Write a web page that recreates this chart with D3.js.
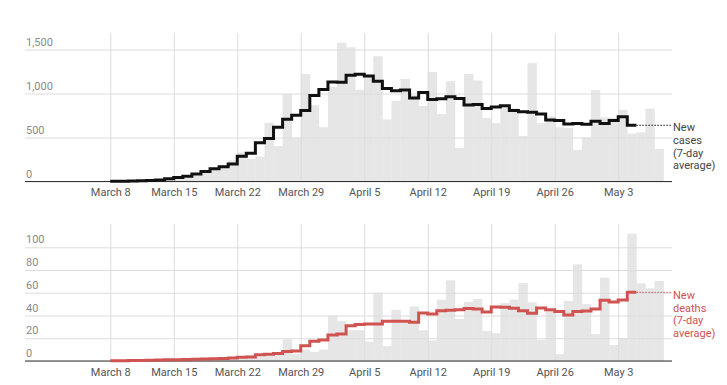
<!DOCTYPE html>
<html><head><meta charset="utf-8">
<script src="https://cdn.jsdelivr.net/npm/d3@7"></script>
<style>
body{margin:0;background:#fff;}
svg{display:block;font-family:Roboto,"Noto Sans",sans-serif;}
</style></head><body>
<svg id="chart" width="727" height="385"></svg>
<script>
// ---- data ----
const startDate = "2020-03-08";            // first day of data (index 0)
const tickDates = ["2020-03-08","2020-03-15","2020-03-22","2020-03-29","2020-04-05","2020-04-12","2020-04-19","2020-04-26","2020-05-03"];
const tickLabels = ["March 8","March 15","March 22","March 29","April 5","April 12","April 19","April 26","May 3"];

const newCases = [1,2,4,8,14,25,30,55,70,95,120,150,185,240,330,255,282,668,403,994,491,1222,866,616,1075,1578,1525,1042,1190,1424,705,915,1165,985,857,1246,766,1140,383,1222,1148,720,663,850,830,517,1345,663,740,616,610,360,500,1038,729,722,814,544,559,828,369];
const casesAvg = [2,4,6,9,12,18,30,45,60,85,113,144,167,199,288,320,440,490,616,708,752,808,978,1045,1131,1129,1207,1218,1199,1138,1056,1032,1041,950,1012,931,940,963,942,868,875,830,847,862,806,794,786,766,700,692,653,658,650,686,659,692,735,639];

const newDeaths = [0,0,1,0,1,1,1,1,2,1,2,3,2,4,3,5,4,7,5,19,6,10,8,10,40,35,27,27,17,60,13,45,34,48,27,18,54,71,37,52,54.5,26.5,24.5,51,54,68.5,51.5,18.6,44,6,52.8,85,50,23.7,73.3,14,20,112,68.3,64,70.4];
const deathsAvg = [0.2,0.3,0.4,0.5,0.6,0.8,1.0,1.1,1.3,1.5,1.7,2.0,2.3,2.7,3.2,3.5,5.6,6.0,6.5,8.3,8.8,13.5,17.3,18.5,22.8,23.7,31,32,32.5,32.5,34.9,35,35,34,42.3,41.3,44.1,44.6,45.1,46.2,45.8,43.1,47.6,47.3,46.3,44.3,41.9,46.7,45,43.5,40.5,43.5,44,45.8,53.4,52,53.7,60.4];

const casesTicks = [0,500,1000,1500];
const casesTickLabels = ["0","500","1,000","1,500"];
const deathsTicks = [0,20,40,60,80,100];
const deathsTickLabels = ["0","20","40","60","80","100"];
const casesLabel = ["New","cases","(7-day","average)"];
const deathsLabel = ["New","deaths","(7-day","average)"];

// ---- layout ----
const parse = d3.utcParse("%Y-%m-%d");
const day0 = parse(startDate);
const dayMs = 864e5;
const x = d3.scaleUtc()
  .domain([new Date(+day0 - 9.4*dayMs), new Date(+day0 + 61.93*dayMs)])
  .range([25, 672]);
const dateOf = i => d3.utcDay.offset(day0, i);

const svg = d3.select("#chart");

function panel(opts){
  const {bars, avg, yDomain, yRange, ticks, tickLabels: tl, gridTop, lineColor, labelColor, label, labelBase} = opts;
  const y = d3.scaleLinear().domain(yDomain).range(yRange);
  const g = svg.append("g");

  // bars
  g.append("g").selectAll("rect").data(bars).join("rect")
    .attr("x", (d,i)=>x(dateOf(i)))
    .attr("width", (d,i)=>x(dateOf(i+1))-x(dateOf(i)) + 0.3)
    .attr("y", d=>y(d))
    .attr("height", d=>y(0)-y(d))
    .attr("fill", "#e6e6e6");

  // horizontal grid / y axis
  const yAxis = d3.axisLeft(y).tickValues(ticks).tickFormat((d,i)=>tl[i]).tickSize(-(672-25));
  const ya = g.append("g").attr("transform","translate(25,0)").call(yAxis);
  ya.select(".domain").remove();
  ya.selectAll(".tick line").attr("stroke","#dcdcdc");
  ya.selectAll(".tick text").attr("x",1).attr("dy",-4.5).attr("text-anchor","start")
    .attr("fill","#8a8a8a").style("font-size","11px").style("font-family","Roboto, sans-serif");

  // vertical grid + x axis labels
  const tdates = tickDates.map(parse);
  const xAxis = d3.axisBottom(x).tickValues(tdates).tickFormat((d,i)=>tickLabels[i]).tickSize(-(yRange[0]-gridTop)).tickPadding(7);
  const xa = g.append("g").attr("transform",`translate(0,${yRange[0]})`).call(xAxis);
  xa.select(".domain").remove();
  xa.selectAll(".tick line").attr("stroke","#dcdcdc");
  xa.selectAll(".tick text").attr("fill","#555").style("font-size","11px").style("font-family","Roboto, sans-serif");

  // baseline
  g.append("line").attr("x1",25).attr("x2",672).attr("y1",y(0)).attr("y2",y(0))
    .attr("stroke","#333").attr("stroke-width",1);

  // 7-day average step line
  const pts = avg.map((v,i)=>[x(dateOf(i)), y(v)]);
  pts.push([x(dateOf(avg.length)), y(avg[avg.length-1])]);
  g.append("path").attr("d", d3.line().curve(d3.curveStepAfter)(pts))
    .attr("fill","none").attr("stroke",lineColor).attr("stroke-width",3);

  // dotted leader
  const lastY = y(avg[avg.length-1]);
  g.append("line").attr("x1",x(dateOf(avg.length))).attr("x2",671).attr("y1",lastY).attr("y2",lastY)
    .attr("stroke",lineColor).attr("stroke-width",1).attr("stroke-dasharray","1.5,1.5");

  // label
  const t = g.append("text").attr("x",673).attr("y",lastY+labelBase)
    .attr("fill",labelColor).style("font-size","11px").style("font-family","Roboto, sans-serif");
  label.forEach((s,i)=>t.append("tspan").attr("x",673).attr("dy", i===0?0:12.8).text(s));
}

panel({bars:newCases, avg:casesAvg, yDomain:[0,1500], yRange:[181.5,49.5], ticks:casesTicks, tickLabels:casesTickLabels,
  gridTop:33, lineColor:"#111", labelColor:"#444", label:casesLabel, labelBase:5.8});
panel({bars:newDeaths, avg:deathsAvg, yDomain:[0,100], yRange:[361,247.3], ticks:deathsTicks, tickLabels:deathsTickLabels,
  gridTop:224, lineColor:"#cf5350", labelColor:"#d0524f", label:deathsLabel, labelBase:6.5});
</script>
</body></html>
